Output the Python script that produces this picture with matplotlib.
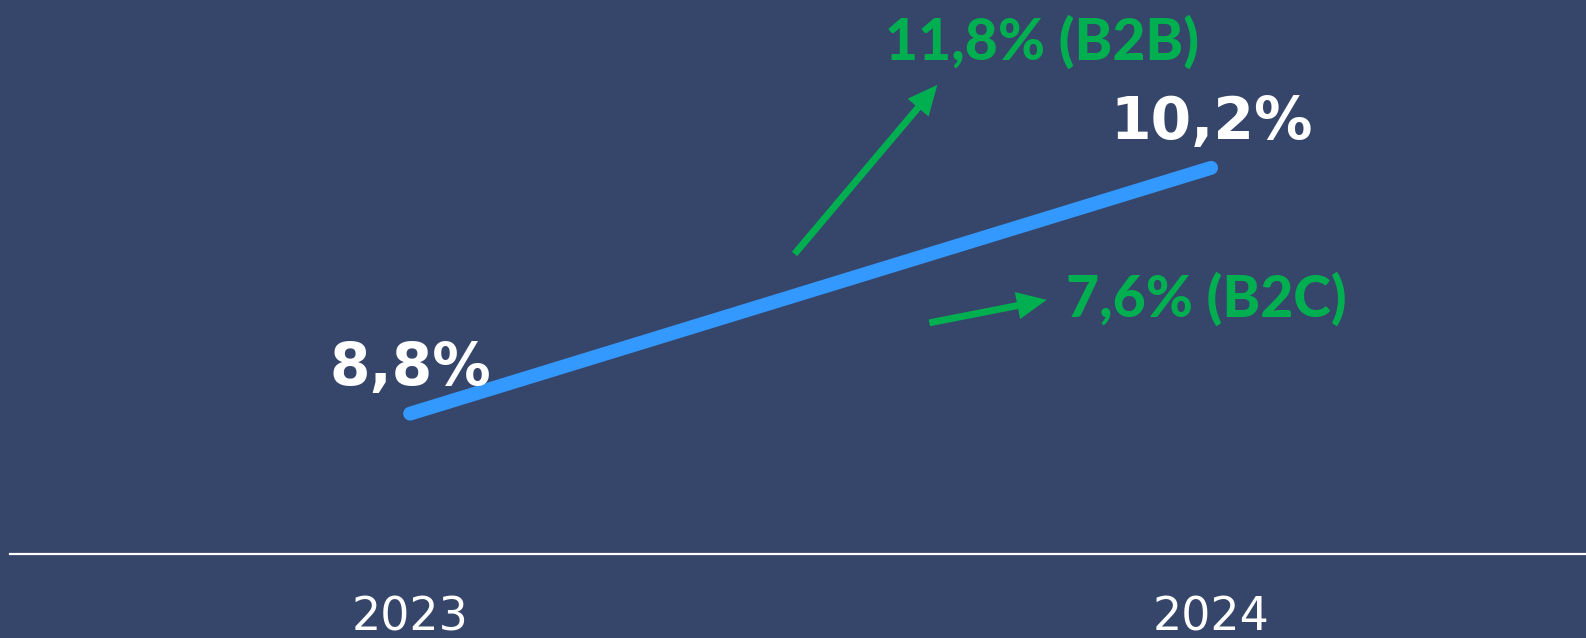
import matplotlib.pyplot as plt

# Data
years = ['2023', '2024']
rates = [8.8, 10.2]
rate_labels = ['8,8%', '10,2%']
b2b_label = '11,8% (B2B)'
b2c_label = '7,6% (B2C)'

bg = '#36456a'
blue = '#3399ff'
green = '#00b050'

fig = plt.figure(figsize=(15.86, 6.38), dpi=100)
fig.patch.set_facecolor(bg)
ax = fig.add_axes([0, 0, 1, 1])
ax.set_facecolor(bg)
ax.set_xlim(-0.512, 1.468)
ax.set_ylim(7.522, 11.156)
ax.axis('off')

x = list(range(len(years)))

# Baseline
ax.axhline(8.0, xmin=10 / 1586, xmax=1, color='white', lw=1.6)

# Main line
ax.plot(x, rates, color=blue, lw=10, solid_capstyle='round')

# Value labels
for xi, v, lab in zip(x, rates, rate_labels):
    ax.annotate(lab, (xi, v), xytext=(0, 20.5), textcoords='offset points',
                ha='center', va='baseline', color='white', fontsize=42,
                fontweight='bold', family='DejaVu Sans')

# Year labels
for xi, yr in zip(x, years):
    ax.text(xi, 0.012, yr, transform=ax.get_xaxis_transform(),
            ha='center', va='baseline', color='white', fontsize=33,
            family='DejaVu Sans')

# Arrows for B2B / B2C
arrow = dict(arrowstyle='-|>,head_length=1.3,head_width=0.6', color=green,
             lw=5, shrinkA=0, shrinkB=0, capstyle='butt', joinstyle='miter')
ax.annotate('', xy=(0.591, 0.867), xytext=(0.501, 0.602),
            xycoords='axes fraction', textcoords='axes fraction', arrowprops=arrow)
ax.annotate('', xy=(0.660, 0.530), xytext=(0.586, 0.494),
            xycoords='axes fraction', textcoords='axes fraction', arrowprops=arrow)

ax.text(0.558, 0.906, b2b_label, transform=ax.transAxes, ha='left',
        va='baseline', color=green, fontsize=41, fontweight='black', family='Lato')
ax.text(0.672, 0.503, b2c_label, transform=ax.transAxes, ha='left',
        va='baseline', color=green, fontsize=41, fontweight='black', family='Lato')

fig.savefig('out.png', dpi=100, facecolor=bg)
